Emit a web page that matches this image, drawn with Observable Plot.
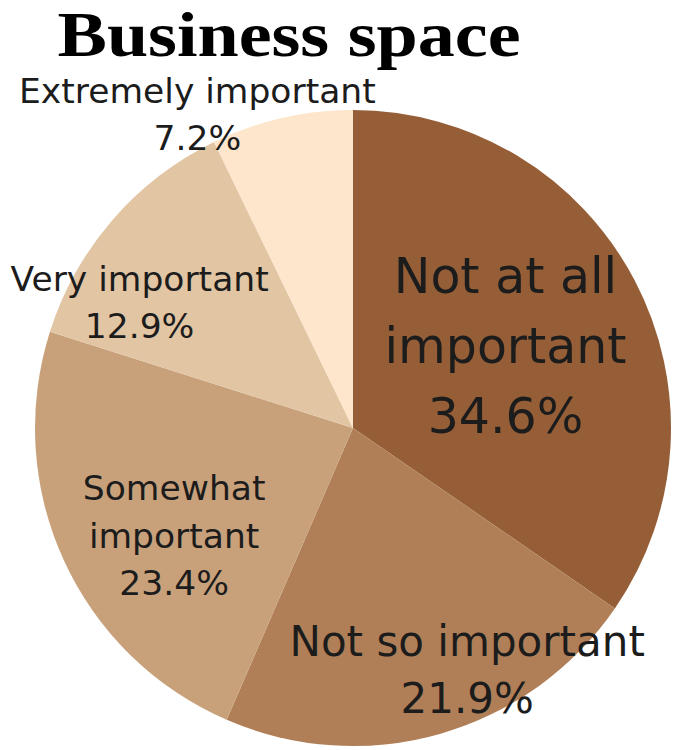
<!DOCTYPE html>
<html><head><meta charset="utf-8">
<script src="https://cdn.jsdelivr.net/npm/d3@7"></script>
<script src="https://cdn.jsdelivr.net/npm/@observablehq/plot@0.6"></script>
<style>html,body{margin:0;padding:0;background:#fff;}</style>
</head><body><div id="chart"></div>
<script>
// ---- data ----
const title = "Business space";
const categories = ["Not at all important", "Not so important", "Somewhat important", "Very important", "Extremely important"];
const labelLines = [["Not at all", "important"], ["Not so important"], ["Somewhat", "important"], ["Very important"], ["Extremely important"]];
const values = [34.6, 21.9, 23.4, 12.9, 7.2];
const colors = ["#955e37", "#b07f57", "#c8a17b", "#e2c5a3", "#fde6cb"];

// ---- layout (label placement relative to each slice's mid-angle) ----
const labelRadius = [0.545, 0.842, 0.660, 0.778, 1.098];
const labelNudge = [-1.0, -9.1, -6.8, -10.7, -13.6];
const labelSize = [49, 42, 34.5, 34.5, 34.5];
const labelLineHeight = [1.43, 1.36, 1.377, 1.36, 1.38];
const titleWidth = 463;

const arcs = d3.pie().sort(null).value(d => d)(values);
const slices = categories.map((c, i) => {
  const mid = (arcs[i].startAngle + arcs[i].endAngle) / 2 + labelNudge[i] * Math.PI / 180;
  return {
    category: c,
    value: values[i],
    start: arcs[i].startAngle,
    end: arcs[i].endAngle,
    lx: labelRadius[i] * Math.sin(mid),
    ly: labelRadius[i] * Math.cos(mid),
    text: labelLines[i].join("\n") + "\n" + values[i].toFixed(1) + "%"
  };
});

const colorScale = Plot.scale({color: {type: "ordinal", domain: categories, range: colors}});

function pieMark(index, scales) {
  const cx = scales.x(0), cy = scales.y(0), r = scales.x(1) - scales.x(0);
  const arc = d3.arc().innerRadius(0).outerRadius(r);
  const g = d3.create("svg:g").attr("transform", `translate(${cx},${cy})`);
  g.selectAll("path").data(slices).join("path")
    .attr("d", d => arc({startAngle: d.start, endAngle: d.end}))
    .attr("fill", d => colorScale.apply(d.category));
  return g.node();
}

const labelFont = "'DejaVu Sans', sans-serif";

const chart = Plot.plot({
  width: 679,
  height: 750,
  margin: 0,
  x: {domain: [-1, 1], range: [35, 671], axis: null},
  y: {domain: [-1, 1], range: [746, 110], axis: null},
  style: {background: "white", overflow: "visible"},
  marks: [
    pieMark,
    ...slices.map((s, i) => Plot.text([s], {
      x: "lx", y: "ly", text: "text", dy: -5,
      fontSize: labelSize[i], lineHeight: labelLineHeight[i],
      fontFamily: labelFont, fill: "#1c1c1c", textAnchor: "middle", lineAnchor: "middle"
    })),
    Plot.text([title], {
      frameAnchor: "top", dx: -51, dy: 55, lineAnchor: "bottom",
      fontSize: 63, fontWeight: "bold", fontFamily: "'Liberation Serif', serif",
      fill: "#000", className: "chart-title"
    })
  ]
});
// stretch the title to the reference width
d3.select(chart).selectAll("text").filter(function() { return this.textContent === title; })
  .attr("textLength", titleWidth).attr("lengthAdjust", "spacingAndGlyphs");
document.getElementById("chart").append(chart);
</script>
</body></html>
